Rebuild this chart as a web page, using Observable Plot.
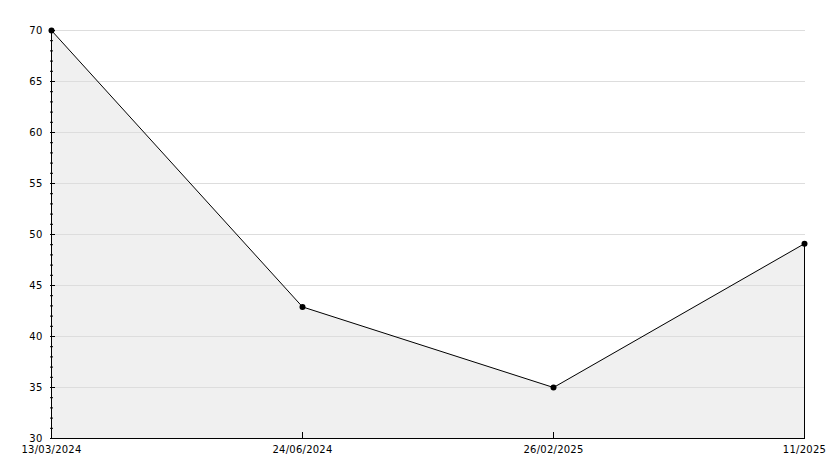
<!DOCTYPE html>
<html>
<head>
<meta charset="utf-8">
<script src="https://cdn.jsdelivr.net/npm/d3@7"></script>
<script src="https://cdn.jsdelivr.net/npm/@observablehq/plot@0.6"></script>
<style>
  html, body { margin: 0; padding: 0; background: #fff; }
  #chart svg { display: block; }
  #chart svg text { letter-spacing: 0.25px; }
</style>
</head>
<body>
<div id="chart"></div>
<script>
const dates = ["13/03/2024", "24/06/2024", "26/02/2025", "11/2025"];
const values = [70, 42.9, 35, 49.1];
const yMajorTicks = [30, 35, 40, 45, 50, 55, 60, 65, 70];
const yMinorTicks = d3.range(30, 71, 1);

const data = dates.map((d, i) => ({date: d, value: values[i]}));
const font = "'DejaVu Sans', sans-serif";

const chart = Plot.plot({
  width: 834,
  height: 468,
  marginLeft: 50,
  marginRight: 29,
  marginTop: 30,
  marginBottom: 30,
  style: {fontFamily: font, fontSize: "10px", color: "#000", background: "#fff"},
  x: {type: "point", domain: dates, padding: 0, inset: 0},
  y: {domain: [30, 70], inset: 0},
  marks: [
    Plot.areaY(data, {x: "date", y1: 30, y2: "value", fill: "#f0f0f0", curve: "linear"}),
    Plot.gridY(yMajorTicks.filter(v => v > 30), {stroke: "#dddddd", strokeOpacity: 1, strokeWidth: 1}),
    Plot.ruleX([dates[dates.length - 1]], {y1: 30, y2: values[values.length - 1], stroke: "#000"}),
    Plot.lineY(data, {x: "date", y: "value", stroke: "#000", strokeWidth: 1}),
    Plot.ruleY([30], {stroke: "#000"}),
    Plot.ruleX([dates[0]], {y1: 30, y2: 70, stroke: "#000"}),
    Plot.axisY(yMinorTicks, {anchor: "left", tickSize: -3, text: null, label: null, stroke: "#000"}),
    Plot.axisY(yMajorTicks, {anchor: "left", tickSize: -5, text: null, label: null, stroke: "#000"}),
    Plot.axisY(yMajorTicks, {anchor: "left", tickSize: 0, tickPadding: 8, label: null, fill: "#000", fontSize: 10}),
    Plot.axisX(dates, {anchor: "bottom", tickSize: -6, text: null, label: null, stroke: "#000"}),
    Plot.axisX(dates, {anchor: "bottom", tickSize: 0, tickPadding: 7, label: null, fill: "#000", fontSize: 10}),
    Plot.dot(data, {x: "date", y: "value", r: 3, fill: "#000", stroke: null})
  ]
});
document.getElementById("chart").appendChild(chart);
</script>
</body>
</html>
